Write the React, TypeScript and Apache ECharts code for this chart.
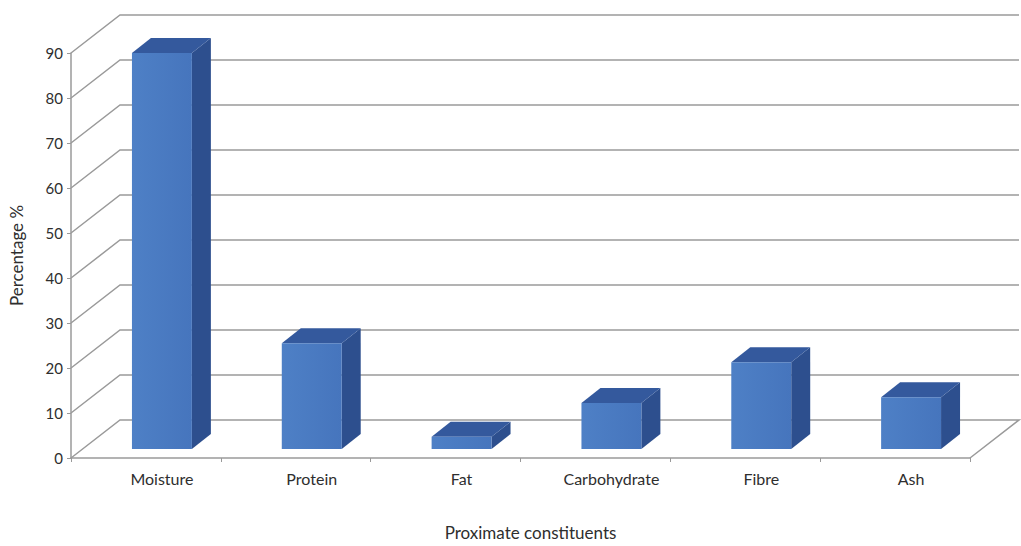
import React, { useEffect, useRef } from "react";
import * as echarts from "echarts";

const categories = ["Moisture", "Protein", "Fat", "Carbohydrate", "Fibre", "Ash"];
const values = [88, 23.5, 2.7, 10.2, 19.3, 11.5];
const yTicks = [0, 10, 20, 30, 40, 50, 60, 70, 80, 90];

// oblique projection of the chart's depth (pixels)
const WALL_DX = 49;
const WALL_DY = -38;
const BAR_FRONT_DX = 16;
const BAR_FRONT_DY = -9;
const BAR_DEPTH_DX = 19;
const BAR_DEPTH_DY = -15;
const BAR_WIDTH_RATIO = 0.4;

const FONT = "Lato, 'Open Sans', sans-serif";
const TEXT_COLOR = "#2e2e2e";
const GRID_COLOR = "#9a9a9a";

export default function App() {
  const ref = useRef<HTMLDivElement>(null);

  useEffect(() => {
    if (!ref.current) return;
    const chart = echarts.init(ref.current, undefined, { renderer: "svg" });

    const option: any = {
      animation: false,
      backgroundColor: "#ffffff",
      grid: { left: 71, right: 51, top: 53, bottom: 88 },
      xAxis: {
        type: "category",
        data: categories,
        boundaryGap: true,
        axisLine: { show: true, lineStyle: { color: GRID_COLOR, width: 1.5 } },
        axisTick: { show: true, alignWithLabel: false, length: 4, lineStyle: { color: GRID_COLOR } },
        axisLabel: {
          color: TEXT_COLOR,
          fontFamily: FONT,
          fontSize: 16,
          margin: 12,
          padding: [0, 0, 0, 32],
        },
        name: "Proximate constituents",
        nameLocation: "middle",
        nameGap: 66,
        nameTextStyle: { color: TEXT_COLOR, fontFamily: FONT, fontSize: 17, padding: [0, 0, 0, 20] },
      },
      yAxis: {
        type: "value",
        min: 0,
        max: 90,
        interval: 10,
        axisLine: { show: true, lineStyle: { color: GRID_COLOR, width: 1.5 } },
        axisTick: { show: true, length: 4, lineStyle: { color: GRID_COLOR } },
        splitLine: { show: false },
        axisLabel: { color: TEXT_COLOR, fontFamily: FONT, fontSize: 15, margin: 8 },
        name: "Percentage %",
        nameLocation: "middle",
        nameGap: 46,
        nameRotate: 90,
        nameTextStyle: { color: TEXT_COLOR, fontFamily: FONT, fontSize: 17 },
      },
      series: [
        {
          type: "custom",
          z: 1,
          silent: true,
          data: yTicks.map((v) => [0, v]),
          renderItem: (params: any, api: any) => {
            const cs = params.coordSys;
            const v = api.value(1);
            const y = api.coord([0, v])[1];
            const x0 = cs.x;
            const x1 = cs.x + cs.width;
            const pts: number[][] = [
              [x0, y],
              [x0 + WALL_DX, y + WALL_DY],
              [x1 + WALL_DX, y + WALL_DY],
            ];
            if (v === 0) pts.push([x1, y]);
            return {
              type: "polyline",
              shape: { points: pts },
              style: { stroke: GRID_COLOR, lineWidth: 1.5, fill: null },
            };
          },
        },
        {
          type: "custom",
          z: 2,
          data: values.map((v, i) => [i, v]),
          renderItem: (params: any, api: any) => {
            const i = api.value(0);
            const v = api.value(1);
            const base = api.coord([i, 0]);
            const top = api.coord([i, v]);
            const band = api.size([1, 0])[0];
            const w = band * BAR_WIDTH_RATIO;
            const cx = base[0] + BAR_FRONT_DX;
            const xl = cx - w / 2;
            const xr = cx + w / 2;
            const yb = base[1] + BAR_FRONT_DY;
            const yt = top[1] + BAR_FRONT_DY;
            return {
              type: "group",
              children: [
                {
                  type: "polygon",
                  shape: {
                    points: [
                      [xr, yb],
                      [xr + BAR_DEPTH_DX, yb + BAR_DEPTH_DY],
                      [xr + BAR_DEPTH_DX, yt + BAR_DEPTH_DY],
                      [xr, yt],
                    ],
                  },
                  style: { fill: "#2d4f8e" },
                },
                {
                  type: "polygon",
                  shape: {
                    points: [
                      [xl, yt],
                      [xr, yt],
                      [xr + BAR_DEPTH_DX, yt + BAR_DEPTH_DY],
                      [xl + BAR_DEPTH_DX, yt + BAR_DEPTH_DY],
                    ],
                  },
                  style: { fill: "#34599d" },
                },
                {
                  type: "rect",
                  shape: { x: xl, y: yt, width: w, height: yb - yt },
                  style: {
                    fill: new echarts.graphic.LinearGradient(0, 0, 1, 0, [
                      { offset: 0, color: "#4e80c6" },
                      { offset: 1, color: "#4675bd" },
                    ]),
                  },
                },
              ],
            };
          },
        },
      ],
    };

    chart.setOption(option);
    return () => chart.dispose();
  }, []);

  return (
    <div
      ref={ref}
      style={{ position: "fixed", left: 0, top: 0, width: 1021, height: 546, background: "#fff" }}
    />
  );
}
